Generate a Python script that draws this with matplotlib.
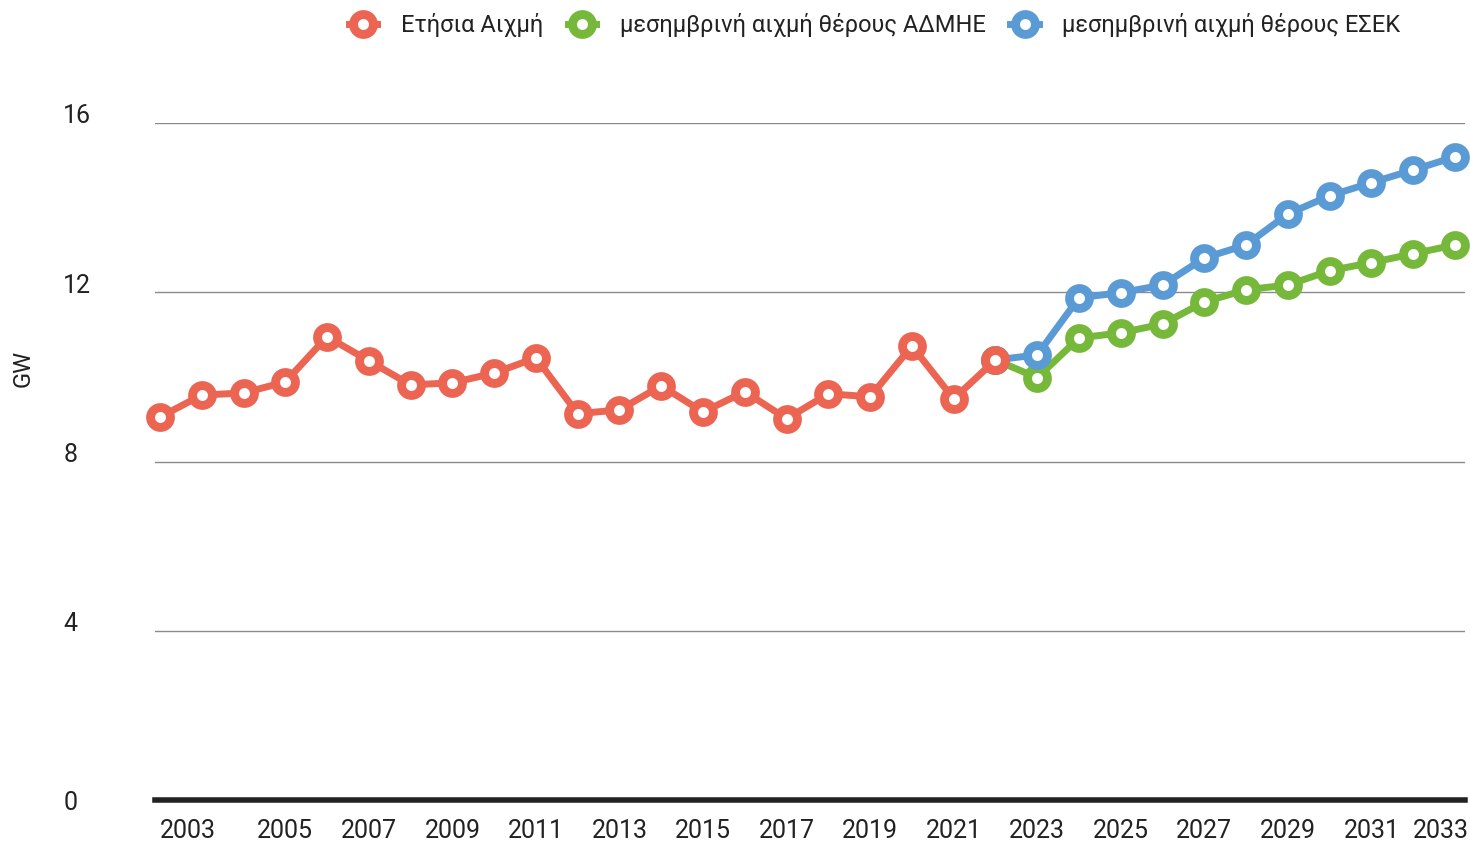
import matplotlib
matplotlib.use("Agg")
import matplotlib.pyplot as plt
import matplotlib.transforms as mtransforms

plt.rcParams['font.family'] = ['Roboto', 'DejaVu Sans']

years_hist = list(range(2002, 2023))
peak_hist = [9.05, 9.57, 9.62, 9.88, 10.95, 10.38, 9.81, 9.86, 10.09, 10.45,
             9.13, 9.22, 9.79, 9.17, 9.65, 9.01, 9.60, 9.53, 10.73, 9.48, 10.40]

years_proj = list(range(2022, 2034))
admie = [10.40, 9.98, 10.92, 11.04, 11.25, 11.77, 12.06, 12.17, 12.51, 12.70, 12.91, 13.12]
esek = [10.40, 10.52, 11.87, 11.99, 12.17, 12.81, 13.12, 13.85, 14.28, 14.59, 14.89, 15.20]

labels = ['Ετήσια Αιχμή', 'μεσημβρινή αιχμή θέρους ΑΔΜΗΕ', 'μεσημβρινή αιχμή θέρους ΕΣΕΚ']
colors = ['#EC6452', '#76B83A', '#5B9BD5']
xticks = list(range(2003, 2034, 2))
yticks = [0, 4, 8, 12, 16]

fig = plt.figure(figsize=(14.7, 8.43), dpi=100)
ax = fig.add_axes([0.1054, 0.0510, 0.8912, 0.8031])

style = dict(linewidth=5, marker='o', markersize=14.3, markeredgewidth=6.4,
             markerfacecolor='white', clip_on=False)
h2, = ax.plot(years_proj, admie, color=colors[1], zorder=3, markeredgecolor=colors[1], label=labels[1], **style)
h3, = ax.plot(years_proj, esek, color=colors[2], zorder=4, markeredgecolor=colors[2], label=labels[2], **style)
h1, = ax.plot(years_hist, peak_hist, color=colors[0], zorder=5, markeredgecolor=colors[0], label=labels[0], **style)

ax.set_xlim(2001.88, 2033.24)
ax.set_ylim(0, 16)
for s in ax.spines.values():
    s.set_visible(False)
ax.set_yticks(yticks)
ax.set_yticklabels([str(v) for v in yticks])
ax.yaxis.grid(True, color='#8a8a8a', linewidth=1)
ax.set_axisbelow(True)
ax.axhline(0, color='#222222', linewidth=4, zorder=2, clip_on=False)
ax.tick_params(axis='y', length=0, pad=66, labelsize=18, labelcolor='#222222')
for lab, v in zip(ax.get_yticklabels(), yticks):
    lab.set_horizontalalignment('left')
    if v != 0:
        lab.set_transform(lab.get_transform() +
                          mtransforms.ScaledTranslation(0, 9 / 100, fig.dpi_scale_trans))
ax.set_xticks(xticks)
ax.set_xticklabels([str(v) for v in xticks])
ax.tick_params(axis='x', length=0, pad=14, labelsize=18, labelcolor='#222222')
xl = ax.get_xticklabels()
xl[-1].set_transform(xl[-1].get_transform() +
                     mtransforms.ScaledTranslation(-14 / 100, 0, fig.dpi_scale_trans))
xl[0].set_transform(xl[0].get_transform() +
                    mtransforms.ScaledTranslation(-14 / 100, 0, fig.dpi_scale_trans))

fig.text(0.0156, 0.563, 'GW', rotation=90, fontsize=17, color='#222222', va='center', ha='center')

fig.legend(handles=[h1, h2, h3], loc='upper center', bbox_to_anchor=(0.595, 1.01), ncol=3,
           frameon=False, fontsize=17, handlelength=1.2, handletextpad=1.0, columnspacing=1.05,
           labelcolor='#222222')

fig.savefig('out.png', dpi=100)
